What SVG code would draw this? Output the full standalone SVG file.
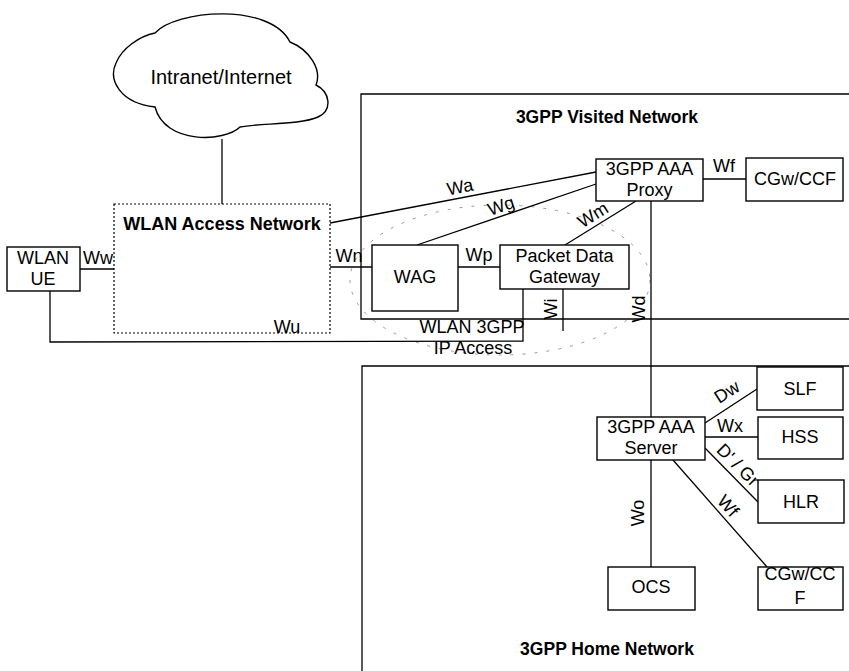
<svg xmlns="http://www.w3.org/2000/svg" width="849" height="671" viewBox="0 0 849 671">
<style>
text{font-family:"Liberation Sans",Arial,sans-serif;font-size:18px;fill:#000;text-anchor:middle}
.b{font-weight:bold}
.box{fill:#fff;stroke:#000;stroke-width:1.4}
.ln{stroke:#000;stroke-width:1.3;fill:none}
.dot{fill:none;stroke:#000;stroke-width:1.2;stroke-dasharray:2 2}
.ell{fill:none;stroke:#999;stroke-width:1;stroke-dasharray:3 9}
</style>
<rect width="849" height="671" fill="#fff"/>
<g id="visited-network">
<path class="ln" d="M849,94 H361 V319 H849"/>
<text class="b" x="607" y="123" style="font-size:17.5px">3GPP Visited Network</text>
</g>
<g id="home-network">
<path class="ln" d="M849,366 H362 V671"/>
<text class="b" x="607" y="655" style="font-size:17.5px">3GPP Home Network</text>
</g>
<g id="wlan-3gpp-ip-access">
<ellipse class="ell" cx="500" cy="280" rx="150" ry="75"/>
<text x="472" y="333">WLAN 3GPP</text>
<text x="473" y="354">IP Access</text>
</g>
<g id="connectors">
<line class="ln" x1="222" y1="139" x2="222" y2="204"/>
<line class="ln" x1="80" y1="269" x2="114" y2="269"/>
<polyline class="ln" points="50,291 50,342 523,341 523,289"/>
<line class="ln" x1="330" y1="267" x2="372" y2="267"/>
<line class="ln" x1="330" y1="223" x2="596" y2="172"/>
<line class="ln" x1="417" y1="245" x2="596" y2="184"/>
<line class="ln" x1="565" y1="245" x2="636" y2="201"/>
<line class="ln" x1="458" y1="267" x2="500" y2="267"/>
<line class="ln" x1="703" y1="179" x2="746" y2="179"/>
<line class="ln" x1="563" y1="289" x2="563" y2="331"/>
<line class="ln" x1="651" y1="201" x2="651" y2="417"/>
<line class="ln" x1="705" y1="423" x2="757" y2="389"/>
<line class="ln" x1="705" y1="437" x2="758" y2="437"/>
<line class="ln" x1="705" y1="448" x2="758" y2="502"/>
<line class="ln" x1="673" y1="460" x2="767" y2="567"/>
<line class="ln" x1="651" y1="460" x2="651" y2="567"/>
<text x="98" y="264">Ww</text>
<text x="349" y="262">Wn</text>
<text x="287" y="333">Wu</text>
<text x="460" y="193" transform="rotate(-11 460 187)">Wa</text>
<text x="501" y="212" transform="rotate(-19 501 206)">Wg</text>
<text x="593" y="221" transform="rotate(-32 593 215)">Wm</text>
<text x="479" y="261">Wp</text>
<text x="724" y="172">Wf</text>
<text x="551" y="315" transform="rotate(-90 551 309)">Wi</text>
<text x="639" y="315" transform="rotate(-90 639 309)">Wd</text>
<text x="727" y="398" transform="rotate(-33 727 392)">Dw</text>
<text x="730" y="432">Wx</text>
<text x="738" y="471" transform="rotate(45 738 465)">D' / Gr</text>
<text x="728" y="512" transform="rotate(48 728 506)">Wf</text>
<text x="638" y="519" transform="rotate(-90 638 513)">Wo</text>
</g>
<g id="internet">
<path class="box" d="M155,107 C120,103 108,80 116,63 C122,48 140,36 155,33 C175,10 270,2 290,42 C310,50 322,70 316,85 C330,92 333,110 318,117 C300,125 260,123 240,127 C225,142 165,145 155,107 Z"/>
<text x="221" y="84" style="font-size:20px">Intranet/Internet</text>
</g>
<g id="wlan-access-network">
<rect class="dot" x="114" y="204" width="216" height="129"/>
<text class="b" x="222" y="230" style="font-size:18px">WLAN Access Network</text>
</g>
<g id="wlan-ue">
<rect class="box" x="7" y="247" width="73" height="44"/>
<text x="43" y="264">WLAN</text>
<text x="43" y="285">UE</text>
</g>
<g id="aaa-proxy">
<rect class="box" x="596" y="159" width="107" height="42"/>
<text x="649.5" y="175">3GPP AAA</text>
<text x="649.5" y="196">Proxy</text>
</g>
<g id="cgw-ccf-visited">
<rect class="box" x="746" y="158" width="97" height="43"/>
<text x="795" y="185">CGw/CCF</text>
</g>
<g id="wag">
<rect class="box" x="372" y="245" width="86" height="66"/>
<text x="415" y="283">WAG</text>
</g>
<g id="pdg">
<rect class="box" x="500" y="245" width="129" height="44"/>
<text x="564.5" y="262">Packet Data</text>
<text x="564.5" y="283">Gateway</text>
</g>
<g id="aaa-server">
<rect class="box" x="597" y="417" width="108" height="43"/>
<text x="651" y="433">3GPP AAA</text>
<text x="651" y="454">Server</text>
</g>
<g id="slf">
<rect class="box" x="757" y="367" width="86" height="43"/>
<text x="800" y="395">SLF</text>
</g>
<g id="hss">
<rect class="box" x="758" y="417" width="85" height="42"/>
<text x="800" y="443">HSS</text>
</g>
<g id="hlr">
<rect class="box" x="758" y="480" width="86" height="43"/>
<text x="801" y="508">HLR</text>
</g>
<g id="ocs">
<rect class="box" x="608" y="567" width="87" height="43"/>
<text x="651" y="593">OCS</text>
</g>
<g id="cgw-ccf-home">
<rect class="box" x="758" y="567" width="85" height="43"/>
<text x="800" y="580">CGw/CC</text>
<text x="800" y="604">F</text>
</g>
</svg>
